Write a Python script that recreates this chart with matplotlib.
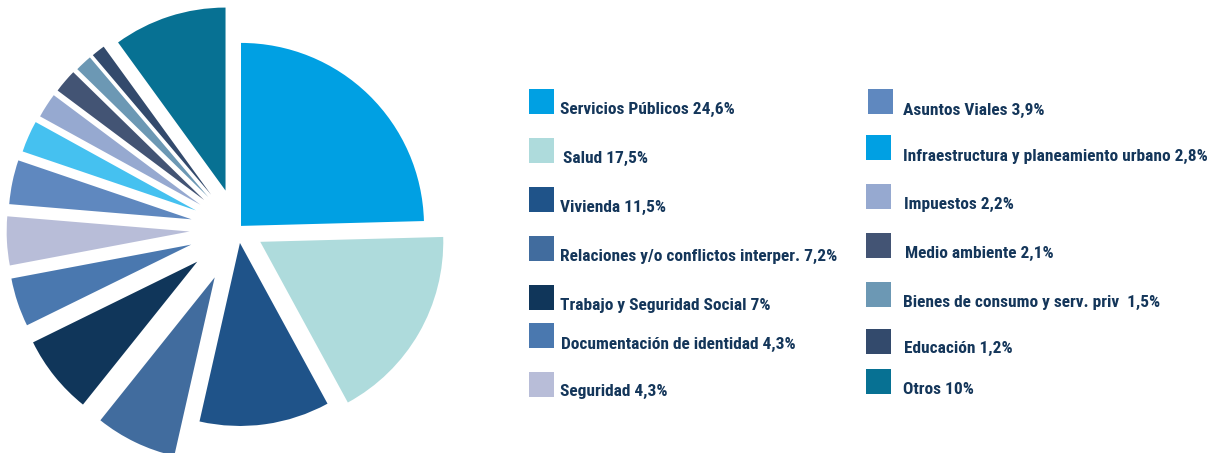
import matplotlib
matplotlib.use("Agg")
import matplotlib.pyplot as plt
from matplotlib.patches import Rectangle

W, H = 1216, 453

labels = ["Servicios Públicos 24,6%", "Salud 17,5%", "Vivienda 11,5%",
          "Relaciones y/o conflictos interper. 7,2%", "Trabajo y Seguridad Social 7%",
          "Documentación de identidad 4,3%", "Seguridad 4,3%", "Asuntos Viales 3,9%",
          "Infraestructura y planeamiento urbano 2,8%", "Impuestos 2,2%",
          "Medio ambiente 2,1%", "Bienes de consumo y serv. priv  1,5%",
          "Educación 1,2%", "Otros 10%"]
values = [24.6, 17.5, 11.5, 7.2, 7.0, 4.3, 4.3, 3.9, 2.8, 2.2, 2.1, 1.5, 1.2, 10.0]
colors = ["#00A0E3", "#AEDBDC", "#1F5389", "#416C9E", "#10365A", "#4A78AF",
          "#B8BDD8", "#5F88BF", "#45C1F0", "#96A9D0", "#435474", "#6C98B4",
          "#334A6C", "#077193"]
legend_colors = colors[:8] + ["#00A0E3"] + colors[9:]

# layout (pixels)
R = 183
cx, cy = 238.0, H - 229.0
explode_px = [4.3, 25.7, 14.1, 53.7, 52.2, 49.3, 48.4, 47.4, 46.0, 44.8, 44.5,
              43.7, 43.5, 40.4]

fig = plt.figure(figsize=(W / 100, H / 100), dpi=100)
ax = fig.add_axes([0, 0, 1, 1])
ax.pie(values, colors=colors, explode=explode_px, radius=R, center=(cx, cy),
       startangle=90, counterclock=False, frame=False,
       wedgeprops=dict(linewidth=0))
ax.set_aspect("auto")
ax.set_xlim(0, W)
ax.set_ylim(0, H)
ax.axis("off")

# legend overlay in pixel coordinates (y down)
lg = fig.add_axes([0, 0, 1, 1])
lg.set_xlim(0, W)
lg.set_ylim(H, 0)
lg.axis("off")
lg.patch.set_alpha(0)

col_sq_x = [529] * 7 + [866] * 7
col_sq_x[7] = 868
sq_top = [89, 138, 187, 236, 285, 323, 372, 89, 135, 184, 233, 282, 329, 369]
txt_x = [560, 563, 560, 560, 560, 561, 560, 903, 903, 904, 905, 903, 904, 903]
txt_base = [114, 163, 212, 261, 310, 349, 396, 115, 161, 209, 258, 307, 353, 394]
SQ = 25
font = dict(family=["Roboto Condensed", "Archivo Narrow", "Barlow Semi Condensed",
                    "DejaVu Sans"],
            weight="bold", size=12.5, color="#14365A")
for i, lab in enumerate(labels):
    lg.add_patch(Rectangle((col_sq_x[i], sq_top[i]), SQ, SQ,
                           facecolor=legend_colors[i], edgecolor="none"))
    lg.text(txt_x[i], txt_base[i], lab, va="baseline", ha="left", **font)

fig.savefig("out.png", dpi=100)
